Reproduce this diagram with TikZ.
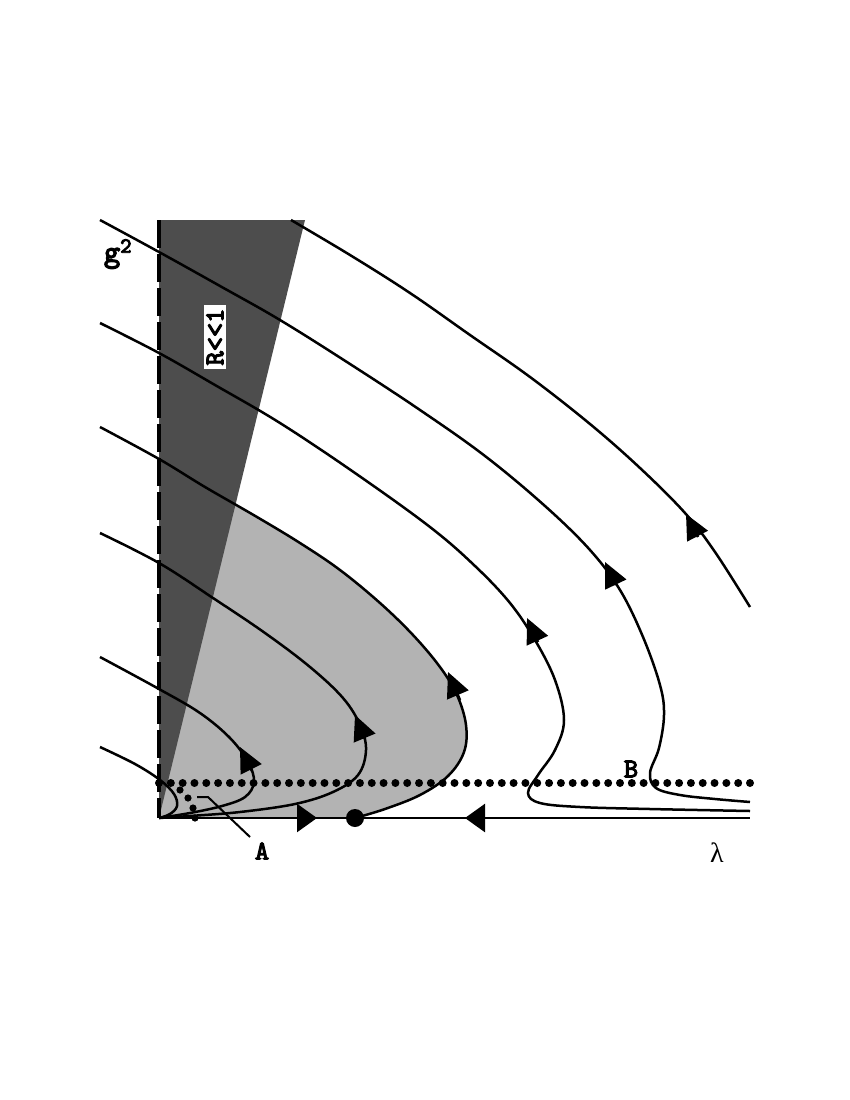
\documentclass[tikz,border=0pt]{standalone}
\usepackage{fontspec}
\newfontfamily\labfont[FakeBold=4]{lmmono10-regular.otf}
\newfontfamily\lamfont{Liberation Serif}
\usetikzlibrary{arrows.meta}
\definecolor{lightreg}{HTML}{B3B3B3}
\definecolor{darkreg}{HTML}{4D4D4D}
\begin{document}
\begin{tikzpicture}[x=1pt,y=-1pt,
  flow/.style={line width=2.5pt},
  tipc/.style={line width=2.5pt,-{Triangle[length=25pt,width=23pt]}},
  tipa/.style={line width=2.5pt,-{Triangle[length=20pt,width=28pt]}},
  lab/.style={font=\fontsize{27}{27}\selectfont\labfont,inner sep=0pt},
  dotm/.style={fill=black}]
\path[use as bounding box] (0,0) rectangle (850,1100);
\coordinate (O) at (159,818);
\coordinate (Xend) at (750,818);
\coordinate (Ytop) at (159,220);
\coordinate (Wtop) at (305,220);
\coordinate (FP) at (355,818);
% light region
\begin{scope}
\clip (159,0) rectangle (850,818);
\fill[lightreg] plot[smooth,tension=0.6] coordinates {(100,427) (159,459) (205,487) (257,517) (300,543) (340,570) (380,603) (413,635) (440,667) (457,695) (466,725) (464,752) (448,776) (420,795) (385,809) (355,818)} -- (O) -- cycle;
\end{scope}
% dark wedge
\fill[darkreg] (Ytop) -- (Wtop) -- (O) -- cycle;
% dashed vertical axis
\draw[line width=3.2pt,dash pattern=on 28pt off 6pt] (Ytop) -- (O);
% flow lines
\draw[flow] plot[smooth,tension=0.6] coordinates {(100,427) (159,459) (205,487) (257,517) (300,543) (340,570) (380,603) (413,635) (440,667) (457,695) (466,725) (464,752) (448,776) (420,795) (385,809) (355,818)};
\draw[flow] plot[smooth,tension=0.6] coordinates {(100,533) (159,563) (213,598) (265,633) (310,667) (343,698) (360,725) (366,750) (358,775) (333,792) (295,804) (240,812) (190,816) (159,818)};
\draw[flow] plot[smooth,tension=0.6] coordinates {(100,657) (159,689) (200,713) (230,738) (248,762) (254,782) (245,797) (222,806) (190,813) (159,818)};
\draw[flow] plot[smooth,tension=0.6] coordinates {(100,747) (135,764) (160,780) (174,794) (177,806) (170,814) (159,818)};
\draw[flow] plot[smooth,tension=0.6] coordinates {(100,323) (159,353) (215,385) (280,423) (355,473) (430,527) (475,566) (510,603) (535,640) (555,680) (564,720) (555,750) (538,775) (528,793) (540,803) (580,807) (650,809) (750,811)};
\draw[flow] plot[smooth,tension=0.6] coordinates {(100,220) (159,252) (220,286) (280,320) (350,364) (420,410) (485,456) (545,506) (590,550) (620,590) (643,637) (660,685) (664,715) (659,748) (650,773) (656,788) (680,795) (715,799) (750,802)};
\draw[flow] plot[smooth,tension=0.6] coordinates {(291,220) (350,255) (410,293) (470,335) (530,377) (590,424) (640,468) (685,513) (715,552) (750,607)};
% horizontal axis
\draw[line width=2.8pt] (O) -- (Xend);
% arrowheads
\draw[tipc] (460,700) -- (448,672);
\draw[tipc] (252,771) -- (240,747);
\draw[tipc] (365,739) -- (355,715);
\draw[tipc] (538,642) -- (527,618);
\draw[tipc] (616,585) -- (605,562);
\draw[tipc] (698,537) -- (686,514);
\draw[tipa] (297,818) -- (317,818);
\draw[tipa] (484,818) -- (465,818);
% dotted line
\foreach \i in {0,...,50} \fill[dotm] (159+\i*11.82,783) circle (4);
\foreach \p in {(180,790),(188,798),(193,808),(195,818)} \fill[dotm] \p circle (3.6);
% fixed point
\fill[dotm] (FP) circle (9);
% labels
\node[lab] (A) at (262,851) {A};
\node[lab] (B) at (631,769) {B};
\coordinate (Aptr) at (197,797);
\draw[line width=2pt] (Aptr) -- (208,797) -- (250,837);
\node[font=\lamfont\fontsize{28}{28}\selectfont,inner sep=0pt] (lam) at (717,853) {λ};
\node[lab,font=\fontsize{31}{31}\selectfont\labfont] (g2) at (118,254) {g\textsuperscript{2}};
\node[lab,font=\fontsize{27}{27}\selectfont\labfont,fill=white,rotate=90,inner xsep=4pt,inner ysep=2pt] (R) at (215,337) {R<<1};
\end{tikzpicture}
\end{document}
